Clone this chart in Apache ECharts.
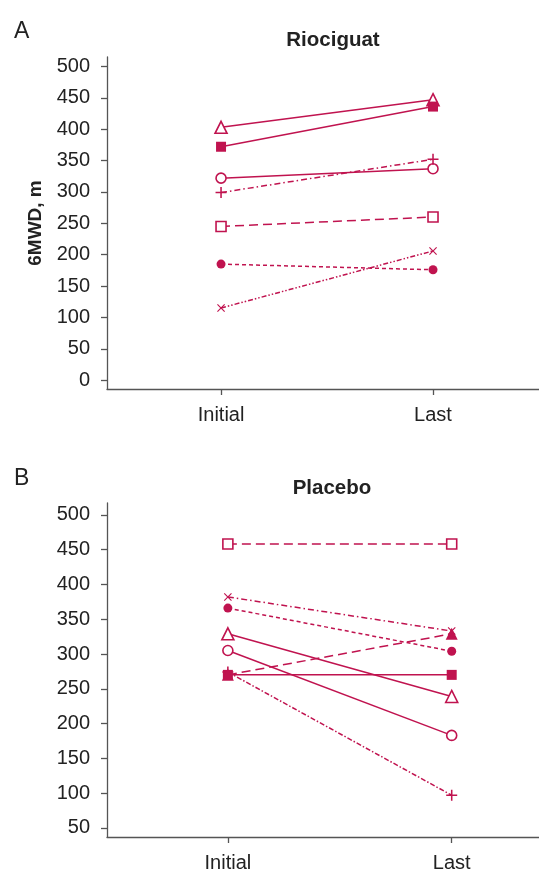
<!DOCTYPE html>
<html>
<head>
<meta charset="utf-8">
<script src="https://cdn.jsdelivr.net/npm/echarts@6/dist/echarts.min.js"></script>
<style>
  html, body { margin: 0; padding: 0; background: #fff; }
  #chart { width: 539px; height: 873px; }
</style>
</head>
<body>
<div id="chart"></div>
<script>
  // data (6MWD in metres)
  const categories = ['Initial', 'Last']
  const yTicksA = [0, 50, 100, 150, 200, 250, 300, 350, 400, 450, 500]
  const yTicksB = [50, 100, 150, 200, 250, 300, 350, 400, 450, 500]

  const riociguatInitial = [403, 372, 322, 299, 245, 185, 115]
  const riociguatLast = [447, 436, 337, 352, 260, 176, 206]

  const placeboInitial = [458, 382, 366, 329, 305, 270, 274, 270]
  const placeboLast = [458, 333, 304, 239, 183, 270, 97, 329]

  const RED = '#c0134f'
  const FONT = 'Liberation Sans, Arial, Helvetica, sans-serif'

  const PLUS = 'path://M4.3,0H5.7V4.3H10V5.7H5.7V10H4.3V5.7H0V4.3H4.3Z'
  const CROSS = 'path://M1,0L5,4L9,0L10,1L6,5L10,9L9,10L5,6L1,10L0,9L4,5L0,1Z'

  // marker / dash for each subject line
  const stylesA = [
    {symbol: 'triangle', size: 12, filled: false, dash: 'solid'},
    {symbol: 'rect', size: 10, filled: true, dash: 'solid'},
    {symbol: 'circle', size: 10, filled: false, dash: 'solid'},
    {symbol: PLUS, size: 11, filled: true, dash: [6, 3, 1.5, 3]},
    {symbol: 'rect', size: 10, filled: false, dash: [9, 5]},
    {symbol: 'circle', size: 9, filled: true, dash: [4, 3]},
    {symbol: CROSS, size: 8, filled: true, dash: [5, 2, 1.5, 2, 1.5, 2]}
  ]
  const stylesB = [
    {symbol: 'rect', size: 10, filled: false, dash: [9, 5]},
    {symbol: CROSS, size: 8, filled: true, dash: [6, 3, 1.5, 3]},
    {symbol: 'circle', size: 9, filled: true, dash: [4, 3]},
    {symbol: 'triangle', size: 12, filled: false, dash: 'solid'},
    {symbol: 'circle', size: 10, filled: false, dash: 'solid'},
    {symbol: 'rect', size: 10, filled: true, dash: 'solid'},
    {symbol: PLUS, size: 11, filled: true, dash: [5, 2, 1.5, 2]},
    {symbol: 'triangle', size: 12, filled: true, dash: [9, 5]}
  ]

  function makeSeries(initial, last, styles, idx) {
    return initial.map((v, i) => {
      const s = styles[i]
      return {
        type: 'line',
        xAxisIndex: idx,
        yAxisIndex: idx,
        data: [[0, v], [1, last[i]]],
        symbol: s.symbol,
        symbolSize: s.size,
        showSymbol: true,
        animation: false,
        z: s.filled ? 3 : 2,
        lineStyle: {color: RED, width: 1.5, type: s.dash},
        itemStyle: {
          color: s.filled ? RED : '#fff',
          borderColor: RED,
          borderWidth: s.filled ? 0 : 1.6
        },
        emphasis: {disabled: true}
      }
    })
  }

  function xAxis(gridIndex, min, max) {
    return {
      type: 'value',
      gridIndex: gridIndex,
      min: min,
      max: max,
      splitLine: {show: false},
      axisLine: {onZero: false, lineStyle: {color: '#555', width: 1.3}},
      axisTick: {show: true, length: 6, customValues: [0, 1], lineStyle: {color: '#555', width: 1.3}},
      axisLabel: {
        customValues: [0, 1],
        formatter: (v) => categories[Math.round(v)],
        color: '#222', fontSize: 20, fontFamily: FONT, margin: 16
      }
    }
  }

  function yAxis(gridIndex, min, max, ticks, name) {
    return {
      type: 'value',
      gridIndex: gridIndex,
      min: min,
      max: max,
      name: name,
      nameLocation: 'middle',
      nameRotate: 90,
      nameGap: 57,
      nameTextStyle: {fontSize: 19, fontWeight: 'bold', color: '#222', fontFamily: FONT},
      splitLine: {show: false},
      axisLine: {show: true, onZero: false, lineStyle: {color: '#555', width: 1.3}},
      axisTick: {show: true, length: 6, customValues: ticks, lineStyle: {color: '#555', width: 1.3}},
      axisLabel: {customValues: ticks, color: '#222', fontSize: 20, fontFamily: FONT, margin: 17}
    }
  }

  const chart = echarts.init(document.getElementById('chart'), null, {renderer: 'canvas'})
  chart.setOption({
    backgroundColor: '#fff',
    title: [
      {text: 'A', left: 9, top: 15, textStyle: {fontSize: 23, fontWeight: 'normal', color: '#222', fontFamily: FONT}},
      {text: 'Riociguat', left: 328, top: 25, textAlign: 'center', textStyle: {fontSize: 20.5, fontWeight: 'bold', color: '#222', fontFamily: FONT}},
      {text: 'B', left: 9, top: 462, textStyle: {fontSize: 23, fontWeight: 'normal', color: '#222', fontFamily: FONT}},
      {text: 'Placebo', left: 327, top: 473, textAlign: 'center', textStyle: {fontSize: 20.5, fontWeight: 'bold', color: '#222', fontFamily: FONT}}
    ],
    grid: [
      {left: 107, top: 57, width: 432, height: 332},
      {left: 107, top: 503, width: 432, height: 334}
    ],
    xAxis: [xAxis(0, -0.538, 1.5), xAxis(1, -0.54, 1.39)],
    yAxis: [yAxis(0, -14, 515, yTicksA, '6MWD, m'), yAxis(1, 37, 517, yTicksB, '')],
    series: makeSeries(riociguatInitial, riociguatLast, stylesA, 0)
      .concat(makeSeries(placeboInitial, placeboLast, stylesB, 1))
  })
</script>
</body>
</html>
